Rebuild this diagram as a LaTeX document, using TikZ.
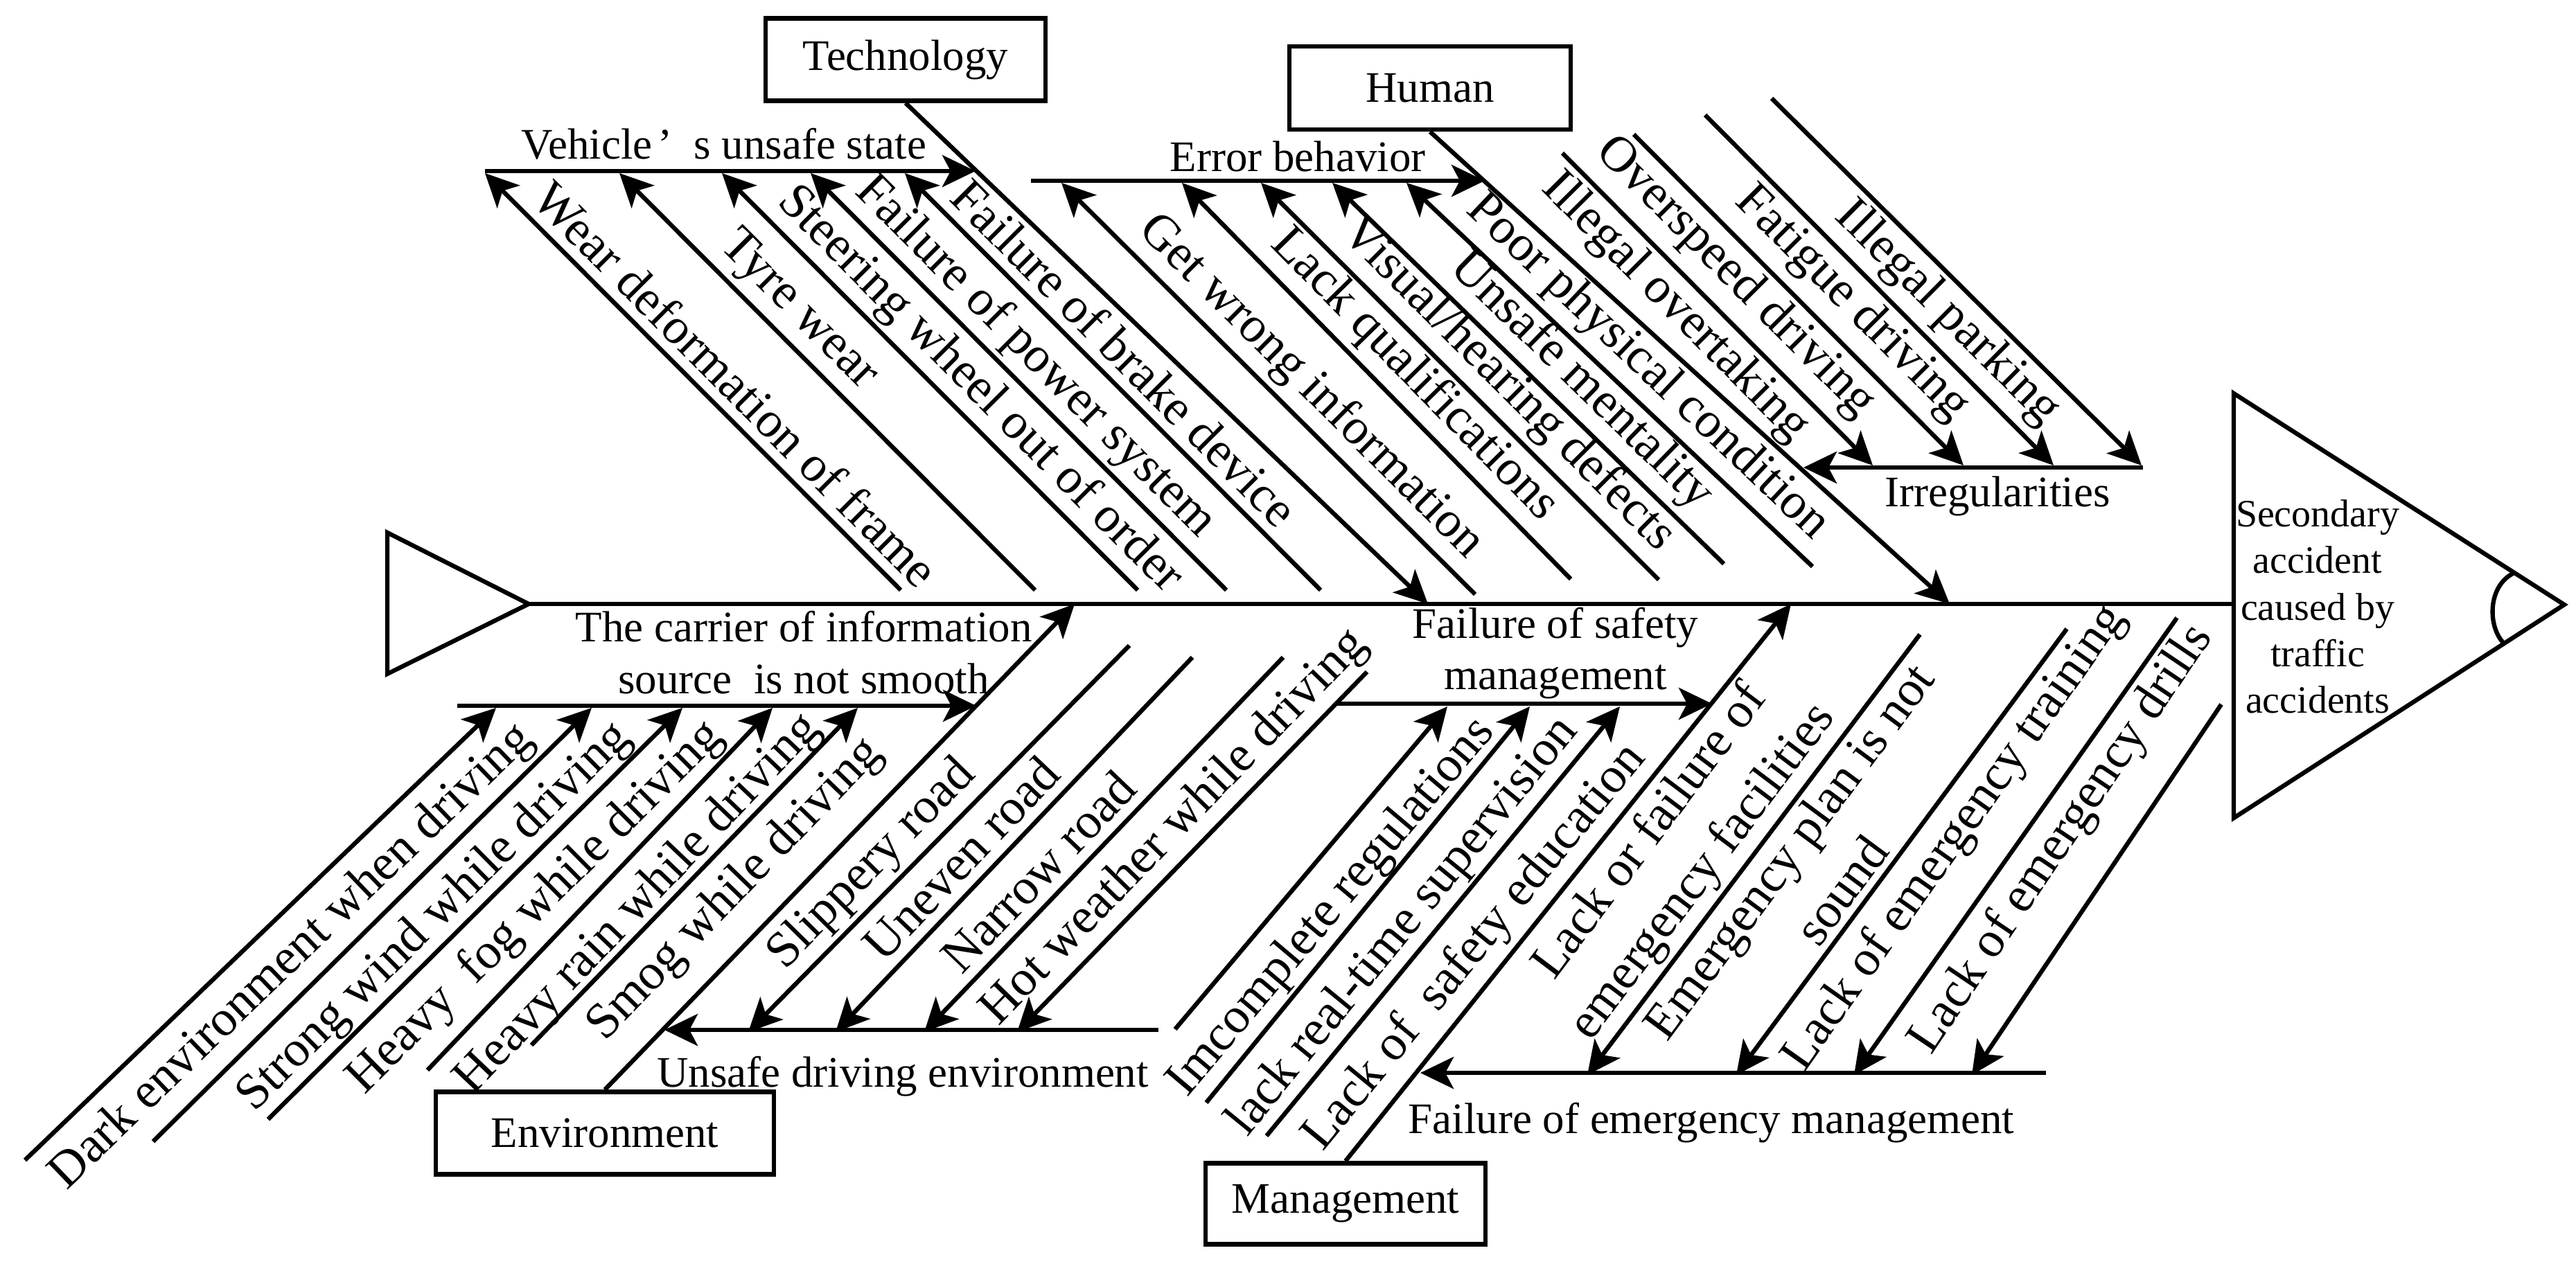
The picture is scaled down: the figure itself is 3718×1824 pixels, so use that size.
\documentclass[tikz,border=0pt]{standalone}
\usepackage{fontspec}
\setmainfont{Liberation Serif}
\usetikzlibrary{arrows.meta}

\newcommand\ribfont{\fontsize{20.7}{27}\selectfont}
\newcommand\barfont{\fontsize{17.9}{21.2}\selectfont}
\newcommand\headfont{\fontsize{15.9}{19.1}\selectfont}

\tikzset{
  bone/.style={line width=1.8pt},
  catbox/.style={draw, line width=1.8pt, font=\barfont, minimum height=1.19cm, inner sep=0pt},
  barlbl/.style={font=\barfont, inner sep=0pt},
  lbl/.style={font=\ribfont, sloped, inner sep=0pt, align=center}
}

\begin{document}
\begin{tikzpicture}[x=0.01cm, y=-0.01cm, >={Stealth[length=4.8mm,width=4.6mm,inset=1.2mm]}]
\useasboundingbox (0,0) rectangle (3718,1824);

% head, tail and spine
\coordinate (tail1) at (559,769);
\coordinate (tail2) at (559,973);
\coordinate (tailtip) at (763,872);
\coordinate (head1) at (3224,568);
\coordinate (head2) at (3224,1181);
\coordinate (headtip) at (3701,873);
\coordinate (headbase) at (3224,872);
\draw[bone] (tail1) -- (tailtip) -- (tail2) -- cycle;
\draw[bone] (head1) -- (headtip) -- (head2) -- cycle;
\draw[bone] (3629,827) .. controls (3590,845) and (3590,905) .. (3614,929);
\node[font=\headfont, align=center, inner sep=0pt] (result) at (3345,876) {Secondary\\accident\\caused by\\traffic\\accidents};
\draw[bone] (tailtip) -- (headbase);

% categories
\node[catbox, minimum width=4.04cm] (tech) at (1307,86) {Technology};
\node[catbox, minimum width=4.06cm, minimum height=1.2cm] (human) at (2064,127) {Human};
\node[catbox, minimum width=4.88cm] (env) at (873,1636) {Environment};
\node[catbox, minimum width=4.04cm, minimum height=1.17cm] (mgmt) at (1942,1738) {Management};

\coordinate (techend) at (2061,872);
\coordinate (humanend) at (2814,872);
\coordinate (envend) at (1551,872);
\coordinate (mgmtend) at (2585,872);
\draw[bone,->] (tech.south) -- (techend);
\draw[bone,->] (human.south) -- (humanend);
\draw[bone,->] (env.north) -- (envend);
\draw[bone,->] (mgmt.north) -- (mgmtend);

% sub bones
\coordinate (vehA) at (700,247);
\coordinate (vehB) at (1408,247);
\draw[bone,->] (vehA) -- (vehB);
\node[barlbl, anchor=base] (vehlbl) at (1045,229) {Vehicle\hspace{0.12em}’\hspace{0.5em}s unsafe state};

\coordinate (errA) at (1488,261);
\coordinate (errB) at (2143,261);
\draw[bone,->] (errA) -- (errB);
\node[barlbl, anchor=base] (errlbl) at (1873,247) {Error behavior};

\coordinate (irrA) at (3093,675);
\coordinate (irrB) at (2603,675);
\draw[bone,->] (irrA) -- (irrB);
\node[barlbl, anchor=base] (irrlbl) at (2883,731) {Irregularities};

\coordinate (carA) at (660,1019);
\coordinate (carB) at (1409,1019);
\draw[bone,->] (carA) -- (carB);
\node[barlbl, align=center] (carlbl) at (1160,942) {The carrier of information\\source~~is not smooth};

\coordinate (unsA) at (1672,1487);
\coordinate (unsB) at (959,1487);
\draw[bone,->] (unsA) -- (unsB);
\node[barlbl, anchor=base] (unslbl) at (1303,1569) {Unsafe driving environment};

\coordinate (safA) at (1927,1016);
\coordinate (safB) at (2471,1016);
\draw[bone,->] (safA) -- (safB);
\node[barlbl, align=center] (saflbl) at (2245,943) {Failure of safety\\management};

\coordinate (emgA) at (2953,1549);
\coordinate (emgB) at (2050,1549);
\draw[bone,->] (emgA) -- (emgB);
\node[barlbl, anchor=base] (emglbl) at (2470,1636) {Failure of emergency management};

% vehicle's unsafe state
\foreach \n/\ax/\ay/\bx/\by/\ps/\txt in {
  1/700/250/1300/852/0.555/{Wear deformation of frame},
  2/894/250/1494/852/0.38/{Tyre wear},
  3/1042/250/1642/852/0.57/{Steering wheel out of order},
  4/1170/250/1770/852/0.49/{Failure of power system},
  5/1306/250/1906/852/0.48/{Failure of brake device}}{
  \coordinate (veha\n) at (\ax,\ay);
  \coordinate (vehb\n) at (\bx,\by);
  \draw[bone,<-] (veha\n) -- node[lbl, pos=\ps, yshift=4.2mm] (vehtxt\n) {\txt} (vehb\n);
}

% error behavior
\foreach \n/\ax/\ay/\bx/\by/\ps/\txt in {
  1/1532/264/2129/858/0.55/{Get wrong information},
  2/1706/264/2267/836/0.54/{Lack qualifications},
  3/1820/264/2394/837/0.565/{Visual/hearing defects},
  4/1923/264/2488/814/0.58/{Unsafe mentality},
  5/2030/264/2616/818/0.54/{Poor physical condition}}{
  \coordinate (erra\n) at (\ax,\ay);
  \coordinate (errb\n) at (\bx,\by);
  \draw[bone,<-] (erra\n) -- node[lbl, pos=\ps, yshift=4.5mm] (errtxt\n) {\txt} (errb\n);
}

% irregularities
\foreach \n/\ax/\ay/\bx/\by/\ps/\txt in {
  1/2255/221/2703/672/0.43/{Illegal overtaking},
  2/2358/194/2834/672/0.37/{Overspeed driving},
  3/2461/166/2964/672/0.48/{Fatigue driving},
  4/2557/142/3091/672/0.53/{Illegal parking}}{
  \coordinate (irra\n) at (\ax,\ay);
  \coordinate (irrb\n) at (\bx,\by);
  \draw[bone,->] (irra\n) -- node[lbl, pos=\ps, yshift=-4.2mm] (irrtxt\n) {\txt} (irrb\n);
}

% carrier of information source
\foreach \n/\ax/\ay/\bx/\by/\ps/\txt in {
  1/36/1675/716/1022/0.51/{Dark environment when driving},
  2/221/1648/854/1022/0.58/{Strong wind while driving},
  3/387/1616/985/1022/0.58/{Heavy~~fog while driving},
  4/617/1545/1115/1022/0.53/{Heavy rain while driving},
  5/767/1509/1238/1022/0.54/{Smog while driving}}{
  \coordinate (cara\n) at (\ax,\ay);
  \coordinate (carb\n) at (\bx,\by);
  \draw[bone,->] (cara\n) -- node[lbl, pos=\ps, yshift=-5.6mm] (cartxt\n) {\txt} (carb\n);
}

% unsafe driving environment
\foreach \n/\ax/\ay/\bx/\by/\ps/\txt in {
  1/1080/1490/1630/932/0.38/{Slippery road},
  2/1206/1490/1721/949/0.41/{Uneven road},
  3/1334/1490/1852/949/0.375/{Narrow road},
  4/1468/1490/1973/970/0.51/{Hot weather while driving}}{
  \coordinate (unsa\n) at (\ax,\ay);
  \coordinate (unsb\n) at (\bx,\by);
  \draw[bone,<-] (unsa\n) -- node[lbl, pos=\ps, yshift=4.2mm] (unstxt\n) {\txt} (unsb\n);
}

% failure of safety management
\foreach \n/\ax/\ay/\bx/\by/\ps/\txt in {
  1/1696/1486/2089/1020/0.46/{Imcomplete regulations},
  2/1741/1592/2208/1020/0.51/{lack real-time supervision},
  3/1828/1640/2338/1020/0.50/{Lack of~~safety education}}{
  \coordinate (safa\n) at (\ax,\ay);
  \coordinate (safb\n) at (\bx,\by);
  \draw[bone,->] (safa\n) -- node[lbl, pos=\ps, yshift=-6mm] (saftxt\n) {\txt} (safb\n);
}

% failure of emergency management
\foreach \n/\ax/\ay/\bx/\by/\ps/\d/\txt in {
  1/2291/1552/2771/916/0.42/9/{Lack or failure of\\emergency facilities},
  2/2506/1552/2983/908/0.38/8.5/{Emergency plan is not\\sound},
  3/2676/1552/3142/892/0.45/7.8/{Lack of emergency training},
  4/2846/1552/3206/1017/0.55/8.2/{Lack of emergency drills}}{
  \coordinate (emga\n) at (\ax,\ay);
  \coordinate (emgb\n) at (\bx,\by);
  \draw[bone,<-] (emga\n) -- node[lbl, pos=\ps, yshift=\d mm] (emgtxt\n) {\txt} (emgb\n);
}
\end{tikzpicture}
\end{document}
